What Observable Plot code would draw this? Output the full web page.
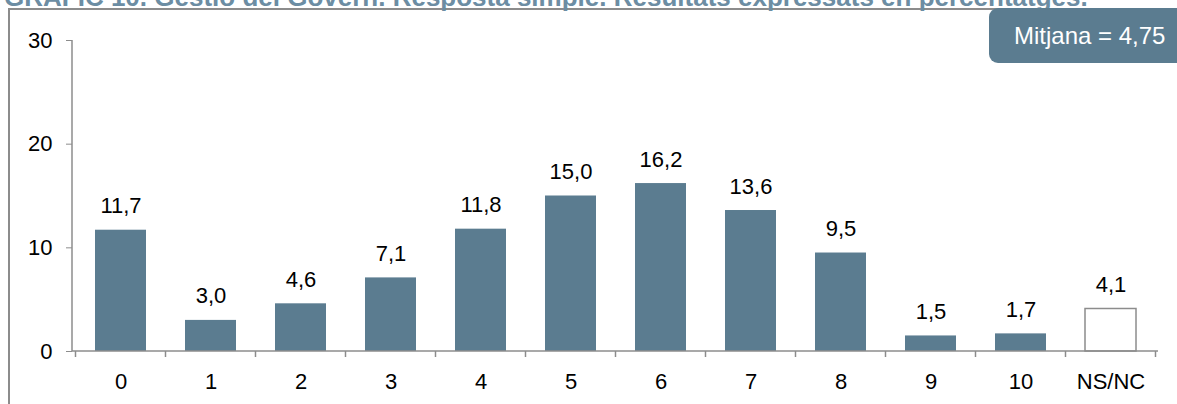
<!DOCTYPE html>
<html>
<head>
<meta charset="utf-8">
<script src="https://cdn.jsdelivr.net/npm/d3@7"></script>
<script src="https://cdn.jsdelivr.net/npm/@observablehq/plot@0.6"></script>
<style>
  html, body { margin: 0; padding: 0; background: #fff; overflow: hidden; }
  body { width: 1177px; height: 404px; position: relative; font-family: Arial, "Liberation Sans", sans-serif; }
  #title { position: absolute; left: 4px; top: -16px; font-size: 26px; line-height: 26px; font-weight: bold; color: #6c8da3; white-space: nowrap; z-index: 1; }
  #frame { position: absolute; left: 8px; top: 8px; right: -10px; bottom: -10px; border-left: 2px solid #8c8c8c; border-top: 2px solid #8c8c8c; }
  #chart { position: absolute; left: 0; top: 0; }
  #mean { position: absolute; left: 989px; top: 8px; width: 220px; height: 55px; border-radius: 9px; background: #5b7c90; color: #fff; font-size: 24px; line-height: 55px; padding-left: 25px; box-sizing: border-box; white-space: nowrap; z-index: 2; }
</style>
</head>
<body>
<div id="frame"></div>
<div id="title"></div>
<div id="chart"></div>
<div id="mean"></div>
<script>
const titleText = "GRÀFIC 10. Gestió del Govern. Resposta simple. Resultats expressats en percentatges.";
const categories = ["0", "1", "2", "3", "4", "5", "6", "7", "8", "9", "10", "NS/NC"];
const values = [11.7, 3.0, 4.6, 7.1, 11.8, 15.0, 16.2, 13.6, 9.5, 1.5, 1.7, 4.1];
const yTicks = [0, 10, 20, 30];
const meanLabel = "Mitjana = 4,75";
const noAnswer = "NS/NC";

const data = categories.map((c, i) => ({cat: c, value: values[i]}));
const fmt = v => v.toFixed(1).replace(".", ",");
const barColor = "#5b7c90";
const axisColor = "#8c8c8c";
const padInner = 0.435;

document.getElementById("title").textContent = titleText;
document.getElementById("mean").textContent = meanLabel;

function axisLines(index, scales, values, dimensions) {
  const {marginLeft, marginTop, marginBottom, height, width, marginRight} = dimensions;
  const x = scales.x;
  const step = x(categories[1]) - x(categories[0]);
  const bw = x.bandwidth ? x.bandwidth() : step * (1 - padInner);
  const off = (step - bw) / 2;
  const y0 = height - marginBottom;
  const g = d3.create("svg:g").attr("stroke", axisColor).attr("stroke-width", 1.5).attr("fill", "none");
  g.append("line").attr("x1", marginLeft).attr("x2", marginLeft).attr("y1", scales.y(30)).attr("y2", y0);
  g.append("line").attr("x1", marginLeft).attr("x2", width - marginRight).attr("y1", y0).attr("y2", y0);
  const bounds = categories.map(c => x(c) - off).concat([x(categories[categories.length - 1]) + bw + off]);
  for (const b of bounds) {
    g.append("line").attr("x1", b).attr("x2", b).attr("y1", y0).attr("y2", y0 + 6);
  }
  return g.node();
}

const plot = Plot.plot({
  width: 1177,
  height: 404,
  marginLeft: 72,
  marginRight: 19,
  marginTop: 40,
  marginBottom: 53,
  style: {fontFamily: "Arial, 'Liberation Sans', sans-serif", fontSize: "22px", color: "#000", background: "transparent", overflow: "visible"},
  x: {domain: categories, paddingInner: padInner, paddingOuter: padInner / 2, tickSize: 0, tickPadding: 22, label: null},
  y: {domain: [0, 30], ticks: yTicks, tickSize: 6, tickPadding: 14, label: null},
  marks: [
    Plot.barY(data, {
      x: "cat", y: "value",
      fill: d => d.cat === noAnswer ? "#ffffff" : barColor,
      stroke: d => d.cat === noAnswer ? axisColor : "none",
      strokeWidth: 1.5
    }),
    Plot.text(data, {x: "cat", y: "value", text: d => fmt(d.value), dy: -24, fill: "#000", fontSize: 22}),
    axisLines
  ]
});
document.getElementById("chart").appendChild(plot);
plot.querySelectorAll("[aria-label='y-axis'] line, [aria-label='y-axis tick'] path, g[aria-label='y-axis'] path").forEach(el => el.setAttribute("stroke", axisColor));
</script>
</body>
</html>
